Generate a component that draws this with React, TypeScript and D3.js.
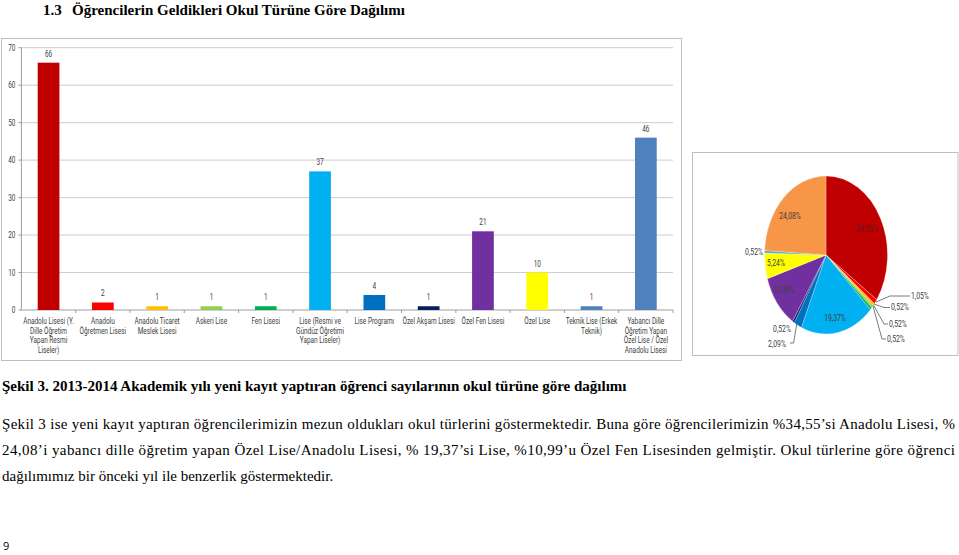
import React from "react";
import * as d3 from "d3";

const categories: string[][] = [
  ["Anadolu Lisesi (Y.", "Dille Öğretim", "Yapan Resmi", "Liseler)"],
  ["Anadolu", "Öğretmen Lisesi"],
  ["Anadolu Ticaret", "Meslek Lisesi"],
  ["Askeri Lise"],
  ["Fen Lisesi"],
  ["Lise (Resmi ve", "Gündüz Öğretimi", "Yapan Liseler)"],
  ["Lise Programı"],
  ["Özel Akşam Lisesi"],
  ["Özel Fen Lisesi"],
  ["Özel Lise"],
  ["Teknik Lise (Erkek", "Teknik)"],
  ["Yabancı Dille", "Öğretim Yapan", "Özel Lise / Özel", "Anadolu Lisesi"],
];
const values: number[] = [66, 2, 1, 1, 1, 37, 4, 1, 21, 10, 1, 46];
const barColors: string[] = [
  "#C00000", "#FF0000", "#FFC000", "#92D050", "#00B050", "#00B0F0",
  "#0070C0", "#002060", "#7030A0", "#FFFF00", "#4F81BD", "#4F81BD",
];
const pieColors: string[] = [
  "#C00000", "#FF0000", "#FFC000", "#92D050", "#00B050", "#00B0F0",
  "#0070C0", "#002060", "#7030A0", "#FFFF00", "#4BACC6", "#F79646",
];
const yTicks: number[] = [0, 10, 20, 30, 40, 50, 60, 70];

const titleText = "Öğrencilerin Geldikleri Okul Türüne Göre Dağılımı";
const captionText =
  "Şekil 3. 2013-2014 Akademik yılı yeni kayıt yaptıran öğrenci sayılarının okul türüne göre dağılımı";
const paragraphLines: string[] = [
  "Şekil 3 ise yeni kayıt yaptıran öğrencilerimizin mezun oldukları okul türlerini göstermektedir. Buna göre öğrencilerimizin %34,55’si Anadolu Lisesi, %",
  "24,08’i yabancı dille öğretim yapan Özel Lise/Anadolu Lisesi, % 19,37’si Lise, %10,99’u Özel Fen Lisesinden gelmiştir. Okul türlerine göre öğrenci",
  "dağılımımız bir önceki yıl ile benzerlik göstermektedir.",
];

const chartFont = "'Roboto', 'DejaVu Sans', sans-serif";
const serif = "'Liberation Serif', 'Times New Roman', serif";
const SX = 0.76; // horizontal condensing to mimic a narrow font

type CTProps = {
  x: number;
  y: number;
  anchor?: string;
  size?: number;
  fill?: string;
  children: React.ReactNode;
};
function CText({ x, y, anchor = "middle", size = 8.5, fill = "#404040", children }: CTProps) {
  return (
    <text
      transform={`translate(${x},${y}) scale(${SX},1)`}
      dy="0.35em"
      textAnchor={anchor}
      fontFamily={chartFont}
      fontSize={size}
      fill={fill}
    >
      {children}
    </text>
  );
}

export default function App() {
  const keys = categories.map((_, i) => String(i));
  const x0 = 21.4;
  const x = d3.scaleBand<string>().domain(keys).range([x0, 673]).paddingInner(0.6).paddingOuter(0.3);
  const y = d3.scaleLinear().domain([0, 70]).range([310, 47.7]);
  const step = x.step();

  // pie
  const total = d3.sum(values);
  const pie = d3.pie<number>().sort(null).value((d) => d)(values);
  const R = 79;
  const sx = 61.5 / 79;
  const cx = 826;
  const cy = 255;
  const arc = d3.arc<d3.PieArcDatum<number>>().innerRadius(0).outerRadius(R);
  const pct = (v: number) => ((v / total) * 100).toFixed(2).replace(".", ",") + "%";

  type PL = { i: number; x: number; y: number; anchor: string; fill?: string; line?: [number, number][] };
  const pieLabels: PL[] = [
    { i: 0, x: 867, y: 229, anchor: "middle", fill: "#5a1a1a" },
    { i: 11, x: 790, y: 216, anchor: "middle" },
    { i: 5, x: 835, y: 318, anchor: "middle" },
    { i: 8, x: 784, y: 290, anchor: "middle" },
    { i: 9, x: 776, y: 263, anchor: "middle" },
    { i: 10, x: 763, y: 252, anchor: "end" },
    { i: 1, x: 911, y: 296, anchor: "start", line: [[876, 302], [890, 296], [910, 296]] },
    { i: 2, x: 891, y: 307, anchor: "start", line: [[874, 304], [884, 307.5], [890, 307.5]] },
    { i: 3, x: 889, y: 324, anchor: "start", line: [[873.5, 305], [884, 324], [888, 324]] },
    { i: 4, x: 887, y: 339, anchor: "start", line: [[873, 306], [882, 339], [886, 339]] },
    { i: 7, x: 782, y: 329, anchor: "middle" },
    { i: 6, x: 777, y: 343.5, anchor: "middle", line: [[797, 323], [793.5, 343], [790, 343]] },
  ];

  return (
    <svg width={959} height={555} style={{ position: "absolute", left: 0, top: 0, background: "#fff" }}>
      {/* heading */}
      <text x={43} y={15} fontFamily={serif} fontWeight="bold" fontSize={15} fill="#000">
        1.3
      </text>
      <text x={72} y={15} fontFamily={serif} fontWeight="bold" fontSize={15} fill="#000">
        {titleText}
      </text>

      {/* bar chart frame */}
      <rect x={1.5} y={38.5} width={680} height={322} fill="#fff" stroke="#BFBFBF" />
      {yTicks.map((t) => (
        <g key={t}>
          {t > 0 && <line x1={x0} x2={673} y1={y(t)} y2={y(t)} stroke="#BFBFBF" strokeWidth={0.8} />}
          <line x1={x0 - 3} x2={x0} y1={y(t)} y2={y(t)} stroke="#868686" strokeWidth={0.8} />
          <CText x={x0 - 6} y={y(t)} anchor="end">
            {t}
          </CText>
        </g>
      ))}
      <line x1={x0} x2={x0} y1={y(70)} y2={y(0)} stroke="#868686" strokeWidth={0.8} />
      <line x1={x0} x2={673} y1={y(0)} y2={y(0)} stroke="#868686" strokeWidth={0.8} />
      {keys.map((k, i) => (
        <line
          key={"tk" + k}
          x1={x0 + step * (i + 1)}
          x2={x0 + step * (i + 1)}
          y1={y(0)}
          y2={y(0) + 3}
          stroke="#868686"
          strokeWidth={0.8}
        />
      ))}
      {values.map((v, i) => (
        <g key={"b" + i}>
          <rect x={x(keys[i])!} y={y(v)} width={x.bandwidth()} height={y(0) - y(v)} fill={barColors[i]} />
          <CText x={x(keys[i])! + x.bandwidth() / 2} y={y(v) - 9}>
            {v}
          </CText>
        </g>
      ))}
      {categories.map((lines, i) =>
        lines.map((l, j) => (
          <CText key={"c" + i + "_" + j} x={x(keys[i])! + x.bandwidth() / 2} y={321 + j * 9.7}>
            {l}
          </CText>
        ))
      )}

      {/* pie chart frame */}
      <rect x={692.5} y={152.5} width={265.5} height={203} fill="#fff" stroke="#BFBFBF" />
      <g transform={`translate(${cx},${cy}) scale(${sx},1)`}>
        {pie.map((p, i) => (
          <path key={"p" + i} d={arc(p) || ""} fill={pieColors[i]} stroke="#fff" strokeWidth={0.3} />
        ))}
      </g>
      {pieLabels.map((l) => (
        <g key={"pl" + l.i}>
          {l.line && (
            <polyline
              points={l.line.map((p) => p.join(",")).join(" ")}
              fill="none"
              stroke="#595959"
              strokeWidth={0.8}
            />
          )}
          <CText x={l.x} y={l.y} anchor={l.anchor} size={9} fill={l.fill || "#404040"}>
            {pct(values[l.i])}
          </CText>
        </g>
      ))}

      {/* caption */}
      <text x={2} y={391} fontFamily={serif} fontWeight="bold" fontSize={15} fill="#000">
        {captionText}
      </text>
      {paragraphLines.map((l, i) => (
        <text
          key={"pg" + i}
          x={2}
          y={429 + i * 26}
          fontFamily={serif}
          fontSize={15}
          fill="#000"
          textLength={i < 2 ? 953 : undefined}
          lengthAdjust={i < 2 ? "spacing" : undefined}
        >
          {l}
        </text>
      ))}
      <text x={3} y={550} fontFamily="'Open Sans', 'Roboto', sans-serif" fontSize={11} fill="#000">
        9
      </text>
    </svg>
  );
}
